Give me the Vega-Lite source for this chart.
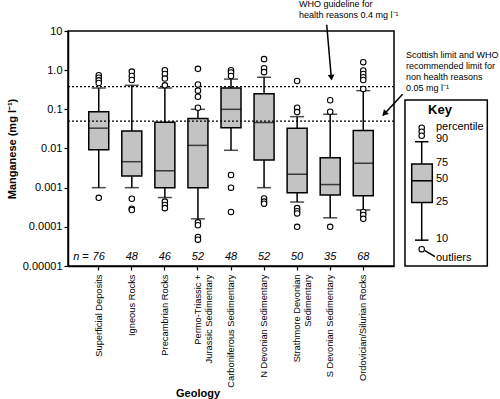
{
  "$schema": "https://vega.github.io/schema/vega-lite/v6.json",
  "width": 326,
  "height": 235,
  "autosize": {"type": "none"},
  "padding": {"top": 31, "left": 68, "right": 106, "bottom": 133},
  "background": "white",
  "config": {
    "font": "Liberation Sans",
    "view": {"stroke": "black", "strokeWidth": 1.5},
    "axis": {"grid": false, "domainColor": "black", "domainWidth": 1.5, "tickColor": "black", "tickWidth": 1.2, "labelColor": "black", "titleColor": "black"}
  },
  "datasets": {
    "stats": [
      {"g": "Superficial Deposits", "p10": 0.001, "q1": 0.0093, "med": 0.033, "q3": 0.087, "p90": 0.35},
      {"g": "Igneous Rocks", "p10": 0.001, "q1": 0.002, "med": 0.0046, "q3": 0.028, "p90": 0.41},
      {"g": "Precambrian Rocks", "p10": 0.00056, "q1": 0.001, "med": 0.0027, "q3": 0.047, "p90": 0.35},
      {"g": "Permo-Triassic + Jurassic Sedimentary", "p10": 0.00016, "q1": 0.001, "med": 0.012, "q3": 0.058, "p90": 0.1},
      {"g": "Carboniferous Sedimentary", "p10": 0.009, "q1": 0.034, "med": 0.1, "q3": 0.35, "p90": 0.59},
      {"g": "N Devonian Sedimentary", "p10": 0.001, "q1": 0.0051, "med": 0.046, "q3": 0.25, "p90": 0.66},
      {"g": "Strathmore Devonian Sedimentary", "p10": 0.00043, "q1": 0.00074, "med": 0.0022, "q3": 0.033, "p90": 0.065},
      {"g": "S Devonian Sedimentary", "p10": 0.00017, "q1": 0.00065, "med": 0.0012, "q3": 0.0058, "p90": 0.075},
      {"g": "Ordovician/Silurian Rocks", "p10": 0.00027, "q1": 0.00062, "med": 0.0042, "q3": 0.029, "p90": 0.3}
    ],
    "outliers": [
      {"g": "Superficial Deposits", "v": 0.74}, {"g": "Superficial Deposits", "v": 0.64}, {"g": "Superficial Deposits", "v": 0.55}, {"g": "Superficial Deposits", "v": 0.47}, {"g": "Superficial Deposits", "v": 0.00055},
      {"g": "Igneous Rocks", "v": 0.92}, {"g": "Igneous Rocks", "v": 0.71}, {"g": "Igneous Rocks", "v": 0.56}, {"g": "Igneous Rocks", "v": 0.00052}, {"g": "Igneous Rocks", "v": 0.00029}, {"g": "Igneous Rocks", "v": 0.00027},
      {"g": "Precambrian Rocks", "v": 1.0}, {"g": "Precambrian Rocks", "v": 0.8}, {"g": "Precambrian Rocks", "v": 0.61}, {"g": "Precambrian Rocks", "v": 0.41}, {"g": "Precambrian Rocks", "v": 0.00044}, {"g": "Precambrian Rocks", "v": 0.00036}, {"g": "Precambrian Rocks", "v": 0.0003},
      {"g": "Permo-Triassic + Jurassic Sedimentary", "v": 1.08}, {"g": "Permo-Triassic + Jurassic Sedimentary", "v": 0.43}, {"g": "Permo-Triassic + Jurassic Sedimentary", "v": 0.3}, {"g": "Permo-Triassic + Jurassic Sedimentary", "v": 0.21}, {"g": "Permo-Triassic + Jurassic Sedimentary", "v": 0.11}, {"g": "Permo-Triassic + Jurassic Sedimentary", "v": 0.00013}, {"g": "Permo-Triassic + Jurassic Sedimentary", "v": 0.00011}, {"g": "Permo-Triassic + Jurassic Sedimentary", "v": 0.000055}, {"g": "Permo-Triassic + Jurassic Sedimentary", "v": 0.000047},
      {"g": "Carboniferous Sedimentary", "v": 1.0}, {"g": "Carboniferous Sedimentary", "v": 0.87}, {"g": "Carboniferous Sedimentary", "v": 0.71}, {"g": "Carboniferous Sedimentary", "v": 0.0021}, {"g": "Carboniferous Sedimentary", "v": 0.001}, {"g": "Carboniferous Sedimentary", "v": 0.00024},
      {"g": "N Devonian Sedimentary", "v": 1.91}, {"g": "N Devonian Sedimentary", "v": 1.12}, {"g": "N Devonian Sedimentary", "v": 0.89}, {"g": "N Devonian Sedimentary", "v": 0.00053}, {"g": "N Devonian Sedimentary", "v": 0.00044}, {"g": "N Devonian Sedimentary", "v": 0.00039},
      {"g": "Strathmore Devonian Sedimentary", "v": 0.53}, {"g": "Strathmore Devonian Sedimentary", "v": 0.11}, {"g": "Strathmore Devonian Sedimentary", "v": 0.085}, {"g": "Strathmore Devonian Sedimentary", "v": 0.0003}, {"g": "Strathmore Devonian Sedimentary", "v": 0.00025}, {"g": "Strathmore Devonian Sedimentary", "v": 0.00022}, {"g": "Strathmore Devonian Sedimentary", "v": 0.0001},
      {"g": "S Devonian Sedimentary", "v": 0.17}, {"g": "S Devonian Sedimentary", "v": 0.087}, {"g": "S Devonian Sedimentary", "v": 0.0001},
      {"g": "Ordovician/Silurian Rocks", "v": 1.6}, {"g": "Ordovician/Silurian Rocks", "v": 0.98}, {"g": "Ordovician/Silurian Rocks", "v": 0.8}, {"g": "Ordovician/Silurian Rocks", "v": 0.66}, {"g": "Ordovician/Silurian Rocks", "v": 0.56}, {"g": "Ordovician/Silurian Rocks", "v": 0.33}, {"g": "Ordovician/Silurian Rocks", "v": 0.00024}, {"g": "Ordovician/Silurian Rocks", "v": 0.0002}, {"g": "Ordovician/Silurian Rocks", "v": 0.00016}
    ],
    "counts": [
      {"g": "Superficial Deposits", "n": "76"},
      {"g": "Igneous Rocks", "n": "48"},
      {"g": "Precambrian Rocks", "n": "46"},
      {"g": "Permo-Triassic + Jurassic Sedimentary", "n": "52"},
      {"g": "Carboniferous Sedimentary", "n": "48"},
      {"g": "N Devonian Sedimentary", "n": "52"},
      {"g": "Strathmore Devonian Sedimentary", "n": "50"},
      {"g": "S Devonian Sedimentary", "n": "35"},
      {"g": "Ordovician/Silurian Rocks", "n": "68"}
    ],
    "refs": [{"v": 0.38}, {"v": 0.05}],
    "keyframe": [{"x": 10.337, "x2": 12.862, "y": 0.174, "y2": 0.00001}],
    "keybox": [{"x": 10.543, "x2": 11.175, "y": 0.00402, "y2": 0.00042}],
    "segs": [
      {"x": 10.85, "x2": 10.85, "y": 0.0149, "y2": 0.00402},
      {"x": 10.85, "x2": 10.85, "y": 0.00042, "y2": 0.0000457},
      {"x": 10.644, "x2": 11.058, "y": 0.0149, "y2": 0.0149},
      {"x": 10.644, "x2": 11.058, "y": 0.0000457, "y2": 0.0000457},
      {"x": 10.543, "x2": 11.175, "y": 0.0015, "y2": 0.0015},
      {"x": 10.95, "x2": 11.257, "y": 0.0000246, "y2": 0.0000173},
      {"x": 7.936, "x2": 8.08, "y": 14.4, "y2": 0.6},
      {"x": 10.264, "x2": 9.66, "y": 0.243, "y2": 0.07}
    ],
    "keypts": [{"x": 10.85, "y": 0.034}, {"x": 10.85, "y": 0.0269}, {"x": 10.85, "y": 0.0212}, {"x": 10.85, "y": 0.0000269}],
    "annot": [
      {"x": 7.086, "y": 49.6, "t": "WHO guideline for"},
      {"x": 7.086, "y": 25.97, "t": "health reasons 0.4 mg l⁻¹"},
      {"x": 10.368, "y": 2.46, "t": "Scottish limit and WHO"},
      {"x": 10.368, "y": 1.288, "t": "recommended limit for"},
      {"x": 10.368, "y": 0.686, "t": "non health reasons"},
      {"x": 10.368, "y": 0.359, "t": "0.05 mg l⁻¹"}
    ],
    "keytext": [
      {"x": 11.288, "y": 0.0361, "t": "percentile"},
      {"x": 11.288, "y": 0.0171, "t": "90"},
      {"x": 11.288, "y": 0.00418, "t": "75"},
      {"x": 11.288, "y": 0.00163, "t": "50"},
      {"x": 11.288, "y": 0.00042, "t": "25"},
      {"x": 11.288, "y": 0.0000484, "t": "10"},
      {"x": 11.288, "y": 0.0000156, "t": "outliers"}
    ]
  },
  "resolve": {"scale": {"x": "independent"}},
  "layer": [
    {
      "data": {"name": "stats"},
      "mark": {"type": "rule", "color": "black", "strokeWidth": 1.5},
      "encoding": {
        "x": {"field": "g", "type": "nominal", "sort": null,
          "scale": {"type": "band", "domain": ["Superficial Deposits", "Igneous Rocks", "Precambrian Rocks", "Permo-Triassic + Jurassic Sedimentary", "Carboniferous Sedimentary", "N Devonian Sedimentary", "Strathmore Devonian Sedimentary", "S Devonian Sedimentary", "Ordovician/Silurian Rocks"], "paddingInner": 0.4, "paddingOuter": 0.63},
          "axis": {"title": "Geology", "titleFontSize": 11, "titleFontWeight": "bold", "titleX": 129.5, "titleY": 127, "titleBaseline": "middle", "labelAngle": 270, "labelFontSize": 9.3, "labelPadding": 4, "tickSize": 4, "labelLineHeight": 11,
            "labelExpr": "datum.label == 'Permo-Triassic + Jurassic Sedimentary' ? ['Permo-Triassic +', 'Jurassic Sedimentary'] : datum.label == 'Strathmore Devonian Sedimentary' ? ['Strathmore Devonian', 'Sedimentary'] : datum.label"}},
        "y": {"field": "p10", "type": "quantitative", "title": "Manganese (mg l⁻¹)",
          "scale": {"type": "log", "domain": [0.00001, 10], "nice": false},
          "axis": {"title": "Manganese (mg l⁻¹)", "titleFontSize": 11, "titleFontWeight": "bold", "titlePadding": 5, "labelFontSize": 11, "tickSize": 4, "labelPadding": 2, "values": [0.00001, 0.0001, 0.001, 0.01, 0.1, 1, 10], "labelExpr": "datum.value == 1 ? '1.0' : format(datum.value, '.5~f')"}},
        "y2": {"field": "p90"}
      }
    },
    {
      "data": {"name": "stats"},
      "mark": {"type": "bar", "size": 20, "fill": "#c3c3c3", "stroke": "black", "strokeWidth": 1.5},
      "encoding": {
        "x": {"field": "g", "type": "nominal", "sort": null, "scale": {"type": "band", "domain": ["Superficial Deposits", "Igneous Rocks", "Precambrian Rocks", "Permo-Triassic + Jurassic Sedimentary", "Carboniferous Sedimentary", "N Devonian Sedimentary", "Strathmore Devonian Sedimentary", "S Devonian Sedimentary", "Ordovician/Silurian Rocks"], "paddingInner": 0.4, "paddingOuter": 0.63}, "axis": null},
        "y": {"field": "q1", "type": "quantitative", "title": "Manganese (mg l⁻¹)", "scale": {"type": "log", "domain": [0.00001, 10], "nice": false},
          "axis": {"title": "Manganese (mg l⁻¹)", "titleFontSize": 11, "titleFontWeight": "bold", "titlePadding": 5, "labelFontSize": 11, "tickSize": 4, "labelPadding": 2, "values": [0.00001, 0.0001, 0.001, 0.01, 0.1, 1, 10], "labelExpr": "datum.value == 1 ? '1.0' : format(datum.value, '.5~f')"}},
        "y2": {"field": "q3"}
      }
    },
    {
      "data": {"name": "stats"},
      "mark": {"type": "tick", "size": 20, "thickness": 1.5, "color": "black"},
      "encoding": {
        "x": {"field": "g", "type": "nominal", "sort": null, "scale": {"type": "band", "domain": ["Superficial Deposits", "Igneous Rocks", "Precambrian Rocks", "Permo-Triassic + Jurassic Sedimentary", "Carboniferous Sedimentary", "N Devonian Sedimentary", "Strathmore Devonian Sedimentary", "S Devonian Sedimentary", "Ordovician/Silurian Rocks"], "paddingInner": 0.4, "paddingOuter": 0.63}, "axis": null},
        "y": {"field": "med", "type": "quantitative", "title": "Manganese (mg l⁻¹)", "scale": {"type": "log", "domain": [0.00001, 10], "nice": false},
          "axis": {"title": "Manganese (mg l⁻¹)", "titleFontSize": 11, "titleFontWeight": "bold", "titlePadding": 5, "labelFontSize": 11, "tickSize": 4, "labelPadding": 2, "values": [0.00001, 0.0001, 0.001, 0.01, 0.1, 1, 10], "labelExpr": "datum.value == 1 ? '1.0' : format(datum.value, '.5~f')"}}
      }
    },
    {
      "data": {"name": "stats"},
      "mark": {"type": "tick", "size": 14, "thickness": 1.5, "color": "black"},
      "encoding": {
        "x": {"field": "g", "type": "nominal", "sort": null, "scale": {"type": "band", "domain": ["Superficial Deposits", "Igneous Rocks", "Precambrian Rocks", "Permo-Triassic + Jurassic Sedimentary", "Carboniferous Sedimentary", "N Devonian Sedimentary", "Strathmore Devonian Sedimentary", "S Devonian Sedimentary", "Ordovician/Silurian Rocks"], "paddingInner": 0.4, "paddingOuter": 0.63}, "axis": null},
        "y": {"field": "p10", "type": "quantitative", "title": "Manganese (mg l⁻¹)", "scale": {"type": "log", "domain": [0.00001, 10], "nice": false},
          "axis": {"title": "Manganese (mg l⁻¹)", "titleFontSize": 11, "titleFontWeight": "bold", "titlePadding": 5, "labelFontSize": 11, "tickSize": 4, "labelPadding": 2, "values": [0.00001, 0.0001, 0.001, 0.01, 0.1, 1, 10], "labelExpr": "datum.value == 1 ? '1.0' : format(datum.value, '.5~f')"}}
      }
    },
    {
      "data": {"name": "stats"},
      "mark": {"type": "tick", "size": 14, "thickness": 1.5, "color": "black"},
      "encoding": {
        "x": {"field": "g", "type": "nominal", "sort": null, "scale": {"type": "band", "domain": ["Superficial Deposits", "Igneous Rocks", "Precambrian Rocks", "Permo-Triassic + Jurassic Sedimentary", "Carboniferous Sedimentary", "N Devonian Sedimentary", "Strathmore Devonian Sedimentary", "S Devonian Sedimentary", "Ordovician/Silurian Rocks"], "paddingInner": 0.4, "paddingOuter": 0.63}, "axis": null},
        "y": {"field": "p90", "type": "quantitative", "title": "Manganese (mg l⁻¹)", "scale": {"type": "log", "domain": [0.00001, 10], "nice": false},
          "axis": {"title": "Manganese (mg l⁻¹)", "titleFontSize": 11, "titleFontWeight": "bold", "titlePadding": 5, "labelFontSize": 11, "tickSize": 4, "labelPadding": 2, "values": [0.00001, 0.0001, 0.001, 0.01, 0.1, 1, 10], "labelExpr": "datum.value == 1 ? '1.0' : format(datum.value, '.5~f')"}}
      }
    },
    {
      "data": {"name": "refs"},
      "mark": {"type": "rule", "color": "black", "strokeWidth": 1.3, "strokeDash": [2, 2]},
      "encoding": {
        "y": {"field": "v", "type": "quantitative", "title": "Manganese (mg l⁻¹)", "scale": {"type": "log", "domain": [0.00001, 10], "nice": false},
          "axis": {"title": "Manganese (mg l⁻¹)", "titleFontSize": 11, "titleFontWeight": "bold", "titlePadding": 5, "labelFontSize": 11, "tickSize": 4, "labelPadding": 2, "values": [0.00001, 0.0001, 0.001, 0.01, 0.1, 1, 10], "labelExpr": "datum.value == 1 ? '1.0' : format(datum.value, '.5~f')"}}
      }
    },
    {
      "data": {"name": "outliers"},
      "mark": {"type": "point", "shape": "circle", "size": 30, "filled": false, "fill": "white", "fillOpacity": 1, "stroke": "black", "strokeWidth": 1.1, "opacity": 1},
      "encoding": {
        "x": {"field": "g", "type": "nominal", "sort": null, "scale": {"type": "band", "domain": ["Superficial Deposits", "Igneous Rocks", "Precambrian Rocks", "Permo-Triassic + Jurassic Sedimentary", "Carboniferous Sedimentary", "N Devonian Sedimentary", "Strathmore Devonian Sedimentary", "S Devonian Sedimentary", "Ordovician/Silurian Rocks"], "paddingInner": 0.4, "paddingOuter": 0.63}, "axis": null},
        "y": {"field": "v", "type": "quantitative", "title": "Manganese (mg l⁻¹)", "scale": {"type": "log", "domain": [0.00001, 10], "nice": false},
          "axis": {"title": "Manganese (mg l⁻¹)", "titleFontSize": 11, "titleFontWeight": "bold", "titlePadding": 5, "labelFontSize": 11, "tickSize": 4, "labelPadding": 2, "values": [0.00001, 0.0001, 0.001, 0.01, 0.1, 1, 10], "labelExpr": "datum.value == 1 ? '1.0' : format(datum.value, '.5~f')"}}
      }
    },
    {
      "data": {"name": "counts"},
      "mark": {"type": "text", "fontSize": 11, "fontStyle": "italic", "align": "center", "baseline": "middle", "color": "black"},
      "encoding": {
        "x": {"field": "g", "type": "nominal", "sort": null, "scale": {"type": "band", "domain": ["Superficial Deposits", "Igneous Rocks", "Precambrian Rocks", "Permo-Triassic + Jurassic Sedimentary", "Carboniferous Sedimentary", "N Devonian Sedimentary", "Strathmore Devonian Sedimentary", "S Devonian Sedimentary", "Ordovician/Silurian Rocks"], "paddingInner": 0.4, "paddingOuter": 0.63}, "axis": null},
        "y": {"datum": 0.0000171, "type": "quantitative", "title": "Manganese (mg l⁻¹)", "scale": {"type": "log", "domain": [0.00001, 10], "nice": false},
          "axis": {"title": "Manganese (mg l⁻¹)", "titleFontSize": 11, "titleFontWeight": "bold", "titlePadding": 5, "labelFontSize": 11, "tickSize": 4, "labelPadding": 2, "values": [0.00001, 0.0001, 0.001, 0.01, 0.1, 1, 10], "labelExpr": "datum.value == 1 ? '1.0' : format(datum.value, '.5~f')"}},
        "text": {"field": "n"}
      }
    },
    {
      "data": {"values": [{"g": "Superficial Deposits", "t": "n ="}]},
      "mark": {"type": "text", "fontSize": 11, "fontStyle": "italic", "align": "right", "baseline": "middle", "dx": -10, "color": "black"},
      "encoding": {
        "x": {"field": "g", "type": "nominal", "sort": null, "scale": {"type": "band", "domain": ["Superficial Deposits", "Igneous Rocks", "Precambrian Rocks", "Permo-Triassic + Jurassic Sedimentary", "Carboniferous Sedimentary", "N Devonian Sedimentary", "Strathmore Devonian Sedimentary", "S Devonian Sedimentary", "Ordovician/Silurian Rocks"], "paddingInner": 0.4, "paddingOuter": 0.63}, "axis": null},
        "y": {"datum": 0.0000171, "type": "quantitative", "title": "Manganese (mg l⁻¹)", "scale": {"type": "log", "domain": [0.00001, 10], "nice": false},
          "axis": {"title": "Manganese (mg l⁻¹)", "titleFontSize": 11, "titleFontWeight": "bold", "titlePadding": 5, "labelFontSize": 11, "tickSize": 4, "labelPadding": 2, "values": [0.00001, 0.0001, 0.001, 0.01, 0.1, 1, 10], "labelExpr": "datum.value == 1 ? '1.0' : format(datum.value, '.5~f')"}},
        "text": {"field": "t"}
      }
    },
    {
      "data": {"name": "keyframe"},
      "mark": {"type": "rect", "fill": "white", "stroke": "black", "strokeWidth": 1.5},
      "encoding": {
        "x": {"field": "x", "type": "quantitative", "scale": {"domain": [0, 10], "nice": false, "zero": false}, "axis": null},
        "x2": {"field": "x2"},
        "y": {"field": "y", "type": "quantitative", "title": "Manganese (mg l⁻¹)", "scale": {"type": "log", "domain": [0.00001, 10], "nice": false},
          "axis": {"title": "Manganese (mg l⁻¹)", "titleFontSize": 11, "titleFontWeight": "bold", "titlePadding": 5, "labelFontSize": 11, "tickSize": 4, "labelPadding": 2, "values": [0.00001, 0.0001, 0.001, 0.01, 0.1, 1, 10], "labelExpr": "datum.value == 1 ? '1.0' : format(datum.value, '.5~f')"}},
        "y2": {"field": "y2"}
      }
    },
    {
      "data": {"name": "keybox"},
      "mark": {"type": "rect", "fill": "#c3c3c3", "stroke": "black", "strokeWidth": 1.5},
      "encoding": {
        "x": {"field": "x", "type": "quantitative", "scale": {"domain": [0, 10], "nice": false, "zero": false}, "axis": null},
        "x2": {"field": "x2"},
        "y": {"field": "y", "type": "quantitative", "title": "Manganese (mg l⁻¹)", "scale": {"type": "log", "domain": [0.00001, 10], "nice": false},
          "axis": {"title": "Manganese (mg l⁻¹)", "titleFontSize": 11, "titleFontWeight": "bold", "titlePadding": 5, "labelFontSize": 11, "tickSize": 4, "labelPadding": 2, "values": [0.00001, 0.0001, 0.001, 0.01, 0.1, 1, 10], "labelExpr": "datum.value == 1 ? '1.0' : format(datum.value, '.5~f')"}},
        "y2": {"field": "y2"}
      }
    },
    {
      "data": {"name": "segs"},
      "mark": {"type": "rule", "color": "black", "strokeWidth": 1.5},
      "encoding": {
        "x": {"field": "x", "type": "quantitative", "scale": {"domain": [0, 10], "nice": false, "zero": false}, "axis": null},
        "x2": {"field": "x2"},
        "y": {"field": "y", "type": "quantitative", "title": "Manganese (mg l⁻¹)", "scale": {"type": "log", "domain": [0.00001, 10], "nice": false},
          "axis": {"title": "Manganese (mg l⁻¹)", "titleFontSize": 11, "titleFontWeight": "bold", "titlePadding": 5, "labelFontSize": 11, "tickSize": 4, "labelPadding": 2, "values": [0.00001, 0.0001, 0.001, 0.01, 0.1, 1, 10], "labelExpr": "datum.value == 1 ? '1.0' : format(datum.value, '.5~f')"}},
        "y2": {"field": "y2"}
      }
    },
    {
      "data": {"values": [{"x": 8.078, "y": 0.647}]},
      "mark": {"type": "point", "shape": "triangle-down", "filled": true, "color": "black", "size": 45, "angle": -5, "opacity": 1},
      "encoding": {
        "x": {"field": "x", "type": "quantitative", "scale": {"domain": [0, 10], "nice": false, "zero": false}, "axis": null},
        "y": {"field": "y", "type": "quantitative", "title": "Manganese (mg l⁻¹)", "scale": {"type": "log", "domain": [0.00001, 10], "nice": false},
          "axis": {"title": "Manganese (mg l⁻¹)", "titleFontSize": 11, "titleFontWeight": "bold", "titlePadding": 5, "labelFontSize": 11, "tickSize": 4, "labelPadding": 2, "values": [0.00001, 0.0001, 0.001, 0.01, 0.1, 1, 10], "labelExpr": "datum.value == 1 ? '1.0' : format(datum.value, '.5~f')"}}
      }
    },
    {
      "data": {"values": [{"x": 9.706, "y": 0.0772}]},
      "mark": {"type": "point", "shape": "triangle-down", "filled": true, "color": "black", "size": 45, "angle": 43, "opacity": 1},
      "encoding": {
        "x": {"field": "x", "type": "quantitative", "scale": {"domain": [0, 10], "nice": false, "zero": false}, "axis": null},
        "y": {"field": "y", "type": "quantitative", "title": "Manganese (mg l⁻¹)", "scale": {"type": "log", "domain": [0.00001, 10], "nice": false},
          "axis": {"title": "Manganese (mg l⁻¹)", "titleFontSize": 11, "titleFontWeight": "bold", "titlePadding": 5, "labelFontSize": 11, "tickSize": 4, "labelPadding": 2, "values": [0.00001, 0.0001, 0.001, 0.01, 0.1, 1, 10], "labelExpr": "datum.value == 1 ? '1.0' : format(datum.value, '.5~f')"}}
      }
    },
    {
      "data": {"name": "keypts"},
      "mark": {"type": "point", "shape": "circle", "size": 30, "filled": false, "fill": "white", "fillOpacity": 1, "stroke": "black", "strokeWidth": 1.1, "opacity": 1},
      "encoding": {
        "x": {"field": "x", "type": "quantitative", "scale": {"domain": [0, 10], "nice": false, "zero": false}, "axis": null},
        "y": {"field": "y", "type": "quantitative", "title": "Manganese (mg l⁻¹)", "scale": {"type": "log", "domain": [0.00001, 10], "nice": false},
          "axis": {"title": "Manganese (mg l⁻¹)", "titleFontSize": 11, "titleFontWeight": "bold", "titlePadding": 5, "labelFontSize": 11, "tickSize": 4, "labelPadding": 2, "values": [0.00001, 0.0001, 0.001, 0.01, 0.1, 1, 10], "labelExpr": "datum.value == 1 ? '1.0' : format(datum.value, '.5~f')"}}
      }
    },
    {
      "data": {"name": "annot"},
      "mark": {"type": "text", "fontSize": 9, "align": "left", "baseline": "middle", "color": "black"},
      "encoding": {
        "x": {"field": "x", "type": "quantitative", "scale": {"domain": [0, 10], "nice": false, "zero": false}, "axis": null},
        "y": {"field": "y", "type": "quantitative", "title": "Manganese (mg l⁻¹)", "scale": {"type": "log", "domain": [0.00001, 10], "nice": false},
          "axis": {"title": "Manganese (mg l⁻¹)", "titleFontSize": 11, "titleFontWeight": "bold", "titlePadding": 5, "labelFontSize": 11, "tickSize": 4, "labelPadding": 2, "values": [0.00001, 0.0001, 0.001, 0.01, 0.1, 1, 10], "labelExpr": "datum.value == 1 ? '1.0' : format(datum.value, '.5~f')"}},
        "text": {"field": "t"}
      }
    },
    {
      "data": {"name": "keytext"},
      "mark": {"type": "text", "fontSize": 11, "align": "left", "baseline": "middle", "color": "black"},
      "encoding": {
        "x": {"field": "x", "type": "quantitative", "scale": {"domain": [0, 10], "nice": false, "zero": false}, "axis": null},
        "y": {"field": "y", "type": "quantitative", "title": "Manganese (mg l⁻¹)", "scale": {"type": "log", "domain": [0.00001, 10], "nice": false},
          "axis": {"title": "Manganese (mg l⁻¹)", "titleFontSize": 11, "titleFontWeight": "bold", "titlePadding": 5, "labelFontSize": 11, "tickSize": 4, "labelPadding": 2, "values": [0.00001, 0.0001, 0.001, 0.01, 0.1, 1, 10], "labelExpr": "datum.value == 1 ? '1.0' : format(datum.value, '.5~f')"}},
        "text": {"field": "t"}
      }
    },
    {
      "data": {"values": [{"x": 11.411, "y": 0.0966, "t": "Key"}]},
      "mark": {"type": "text", "fontSize": 13, "fontWeight": "bold", "align": "center", "baseline": "middle", "color": "black"},
      "encoding": {
        "x": {"field": "x", "type": "quantitative", "scale": {"domain": [0, 10], "nice": false, "zero": false}, "axis": null},
        "y": {"field": "y", "type": "quantitative", "title": "Manganese (mg l⁻¹)", "scale": {"type": "log", "domain": [0.00001, 10], "nice": false},
          "axis": {"title": "Manganese (mg l⁻¹)", "titleFontSize": 11, "titleFontWeight": "bold", "titlePadding": 5, "labelFontSize": 11, "tickSize": 4, "labelPadding": 2, "values": [0.00001, 0.0001, 0.001, 0.01, 0.1, 1, 10], "labelExpr": "datum.value == 1 ? '1.0' : format(datum.value, '.5~f')"}},
        "text": {"field": "t"}
      }
    }
  ]
}
